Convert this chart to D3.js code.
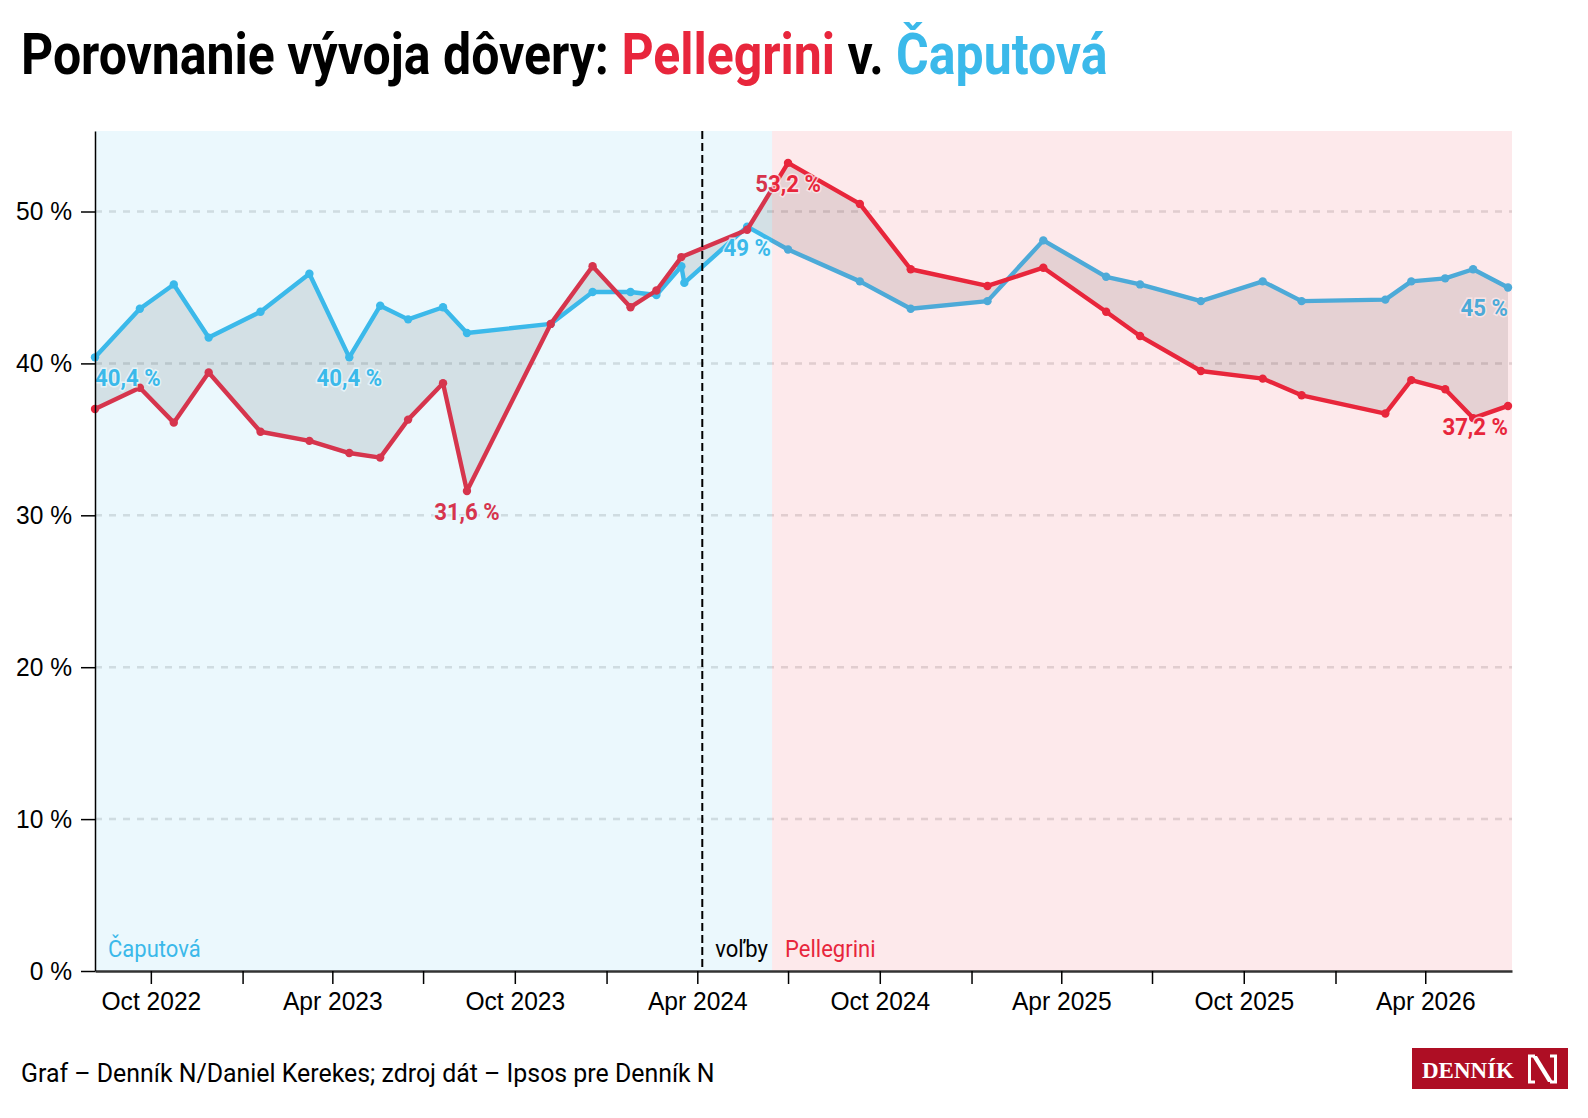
<!DOCTYPE html>
<html>
<head>
<meta charset="utf-8">
<script src="https://cdn.jsdelivr.net/npm/d3@7"></script>
<style>
  body { margin: 0; background: #fff; }
</style>
</head>
<body>
<svg id="chart"></svg>
<script>
// survey dates (Ipsos pre Denník N)
let dates = ['2022-08-06','2022-09-20','2022-10-24','2022-11-28','2023-01-19','2023-03-09',
  '2023-04-18','2023-05-19','2023-06-16','2023-07-21','2023-08-14','2023-11-06','2023-12-18',
  '2024-01-25','2024-02-20','2024-03-16','2024-03-19','2024-05-21','2024-07-01','2024-09-11',
  '2024-11-01','2025-01-17','2025-03-14','2025-05-16','2025-06-19','2025-08-19','2025-10-20',
  '2025-11-28','2026-02-20','2026-03-18','2026-04-21','2026-05-19','2026-06-23']
let caputova = [40.4,43.6,45.2,41.7,43.4,45.9,40.4,43.8,42.9,43.7,42.0,42.6,44.7,
  44.7,44.5,46.4,45.3,49.0,47.5,45.4,43.6,44.1,48.1,45.7,45.2,44.1,45.4,
  44.1,44.2,45.4,45.6,46.2,45.0]
let pellegrini = [37.0,38.4,36.1,39.4,35.5,34.9,34.1,33.8,36.3,38.7,31.6,42.6,46.4,
  43.7,44.8,47.0,null,48.8,53.2,50.5,46.2,45.1,46.3,43.4,41.8,39.5,39.0,
  37.9,36.7,38.9,38.3,36.4,37.2]
let yTicks = [0, 10, 20, 30, 40, 50]
let electionDate = '2024-04-06'
let inaugurationDate = '2024-06-15'
let xEndDate = '2026-06-27'

let red = '#e8263c'
let blue = '#3bb9ea'
let font = 'Roboto, "Noto Sans", sans-serif'

let W = 1588, H = 1118
let m = {top: 131, right: 76, bottom: 147, left: 95}
let w = W - m.left - m.right
let h = H - m.top - m.bottom

let parse = d3.utcParse('%Y-%m-%d')
let loc = d3.formatLocale({decimal: ',', thousands: ' ', grouping: [3], currency: ['', '']})
let pct = v => (Number.isInteger(v) ? loc.format('d')(v) : loc.format('.1f')(v)) + ' %'

// no Roboto Condensed in the sandbox, so squash Roboto sideways
function condense(sel, k) {
  sel.each(function () {
    let len = this.getComputedTextLength()
    d3.select(this).attr('textLength', len * k).attr('lengthAdjust', 'spacingAndGlyphs')
  })
}

let svg = d3.select('#chart').attr('width', W).attr('height', H)
  .style('font-family', font)

let x = d3.scaleUtc().domain([parse(dates[0]), parse(xEndDate)]).range([m.left, m.left + w])
let y = d3.scaleLinear().domain([0, 55.3]).range([m.top + h, m.top])

let series = [
  {name: 'Čaputová', color: blue, pts: dates.map((d, i) => ({date: parse(d), v: caputova[i]})).filter(p => p.v != null)},
  {name: 'Pellegrini', color: red, pts: dates.map((d, i) => ({date: parse(d), v: pellegrini[i]})).filter(p => p.v != null)},
]

// title, one text per colour run, squashed with a transform
let titleParts = [
  {t: 'Porovnanie vývoja dôvery:', c: '#000'},
  {t: 'Pellegrini', c: red},
  {t: 'v.', c: '#000'},
  {t: 'Čaputová', c: blue},
]
let titleK = 0.862
let probe = svg.append('text').attr('font-size', 58).attr('font-weight', 700).text('n n')
let probe2 = svg.append('text').attr('font-size', 58).attr('font-weight', 700).text('nn')
let gap = (probe.node().getComputedTextLength() - probe2.node().getComputedTextLength()) * titleK
probe.remove(); probe2.remove()
let cx = 21
titleParts.forEach(p => {
  let g = svg.append('g').attr('transform', `translate(${cx},74) scale(${titleK},1)`)
  let t = g.append('text').attr('font-size', 58).attr('font-weight', 700).attr('fill', p.c).text(p.t)
  cx += t.node().getComputedTextLength() * titleK + gap
})

// grid
svg.append('g').selectAll('line')
  .data(yTicks.filter(d => d > 0))
  .enter().append('line')
  .attr('x1', m.left).attr('x2', m.left + w)
  .attr('y1', d => y(d)).attr('y2', d => y(d))
  .attr('stroke', '#e0e0e0').attr('stroke-width', 2.5).attr('stroke-dasharray', '7,7')

// band between the two lines
let line = d3.line().x(p => x(p.date)).y(p => y(p.v))
let band = series[0].pts.concat(series[1].pts.slice().reverse())
svg.append('path').attr('d', line(band) + 'Z').attr('fill', '#000').attr('fill-opacity', 0.1)

// lines + dots
series.forEach(s => {
  svg.append('path').attr('d', line(s.pts)).attr('fill', 'none')
    .attr('stroke', s.color).attr('stroke-width', 4.4).attr('stroke-linejoin', 'round')
  svg.append('g').selectAll('circle').data(s.pts).enter().append('circle')
    .attr('cx', p => x(p.date)).attr('cy', p => y(p.v)).attr('r', 4.2).attr('fill', s.color)
})

// labels: min, max, last of each series
series.forEach(s => {
  let vals = s.pts.map(p => p.v)
  let lo = d3.min(vals), hi = d3.max(vals), last = s.pts.length - 1
  let picks = s.pts.filter((p, j) => p.v === lo || p.v === hi || j === last)
  let lab = svg.append('g').selectAll('text').data(picks).enter().append('text')
    .attr('x', p => x(p.date)).attr('y', p => y(p.v) + 29)
    .attr('text-anchor', p => p === s.pts[0] ? 'start' : p === s.pts[last] ? 'end' : 'middle')
    .attr('font-size', 23).attr('font-weight', 700).attr('fill', s.color)
    .attr('stroke', '#fff').attr('stroke-width', 3).attr('stroke-opacity', 0.8).attr('paint-order', 'stroke')
    .text(p => pct(p.v))
  condense(lab, 0.965)
})

// period overlays (drawn on top, like the original)
let xEl = x(parse(electionDate)), xIn = x(parse(inaugurationDate))
svg.append('rect').attr('x', m.left).attr('y', m.top).attr('width', xIn - m.left).attr('height', h)
  .attr('fill', blue).attr('fill-opacity', 0.1)
svg.append('rect').attr('x', xIn).attr('y', m.top).attr('width', m.left + w - xIn).attr('height', h)
  .attr('fill', red).attr('fill-opacity', 0.1)

// election marker
svg.append('line').attr('x1', xEl).attr('x2', xEl).attr('y1', m.top).attr('y2', m.top + h)
  .attr('stroke', '#000').attr('stroke-width', 2).attr('stroke-dasharray', '8,4')

let regions = [
  {t: 'Čaputová', x: m.left + 13, c: blue},
  {t: 'voľby', x: xEl + 13, c: '#000'},
  {t: 'Pellegrini', x: xIn + 13, c: red},
]
let reg = svg.append('g').selectAll('text').data(regions).enter().append('text')
  .attr('x', d => d.x).attr('y', m.top + h - 14).attr('font-size', 24).attr('fill', d => d.c)
  .text(d => d.t)
condense(reg, 0.917)

// axes
let yAxis = svg.append('g').attr('transform', `translate(${m.left},0)`)
  .call(d3.axisLeft(y).tickValues(yTicks).tickFormat(d => d + ' %').tickSize(14).tickSizeOuter(0).tickPadding(9))
yAxis.select('.domain').attr('stroke', '#000').attr('stroke-width', 1.5)
yAxis.selectAll('.tick line').attr('stroke', '#000').attr('stroke-width', 1.5)
yAxis.selectAll('text').attr('font-size', 26).attr('font-family', null).attr('fill', '#000')
condense(yAxis.selectAll('text'), 0.945)

let xAxis = svg.append('g').attr('transform', `translate(0,${m.top + h})`)
  .call(d3.axisBottom(x).ticks(d3.utcMonth.every(3))
    .tickFormat(d => [3, 9].includes(d.getUTCMonth()) ? d3.utcFormat('%b %Y')(d) : '')
    .tickSize(13).tickSizeOuter(0).tickPadding(8))
xAxis.select('.domain').attr('stroke', '#333').attr('stroke-width', 2.5)
xAxis.selectAll('.tick line').attr('stroke', '#000').attr('stroke-width', 1.5)
xAxis.selectAll('text').attr('font-size', 26).attr('font-family', null).attr('fill', '#000')
condense(xAxis.selectAll('text'), 0.945)
yAxis.raise()

// footer
let foot = svg.append('text').attr('x', 21).attr('y', 1082).attr('font-size', 26).attr('fill', '#000')
  .text('Graf – Denník N/Daniel Kerekes; zdroj dát – Ipsos pre Denník N')
condense(foot, 0.957)

// logo
let logo = svg.append('g').attr('transform', 'translate(1412,1048)')
logo.append('rect').attr('width', 156).attr('height', 41).attr('fill', '#ae0e24')
logo.append('text').attr('x', 10).attr('y', 30)
  .style('font-family', '"Liberation Serif", "DejaVu Serif", serif')
  .attr('font-weight', 700).attr('font-size', 23).attr('fill', '#fff').text('DENNÍK')
logo.append('path').attr('d', 'M123,8 H117.5 V34 H123 M138,8 H143.5 V34 H138')
  .attr('fill', 'none').attr('stroke', '#fff').attr('stroke-width', 3)
logo.append('path').attr('d', 'M120,8 L125,8 L141,34 L136,34 Z').attr('fill', '#fff')
</script>
</body>
</html>
